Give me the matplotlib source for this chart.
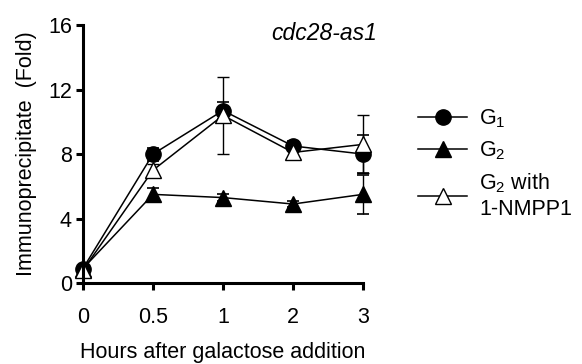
import matplotlib
matplotlib.use("Agg")
import matplotlib.pyplot as plt
from matplotlib.lines import Line2D
import numpy as np

plt.rcParams['font.family'] = ['Liberation Sans', 'DejaVu Sans']
plt.rcParams['mathtext.fontset'] = 'custom'
plt.rcParams['mathtext.rm'] = 'Liberation Sans'
plt.rcParams['mathtext.it'] = 'Liberation Sans:italic'
plt.rcParams['mathtext.default'] = 'regular'

time_labels = ["0", "0.5", "1", "2", "3"]
g1 = [0.9, 8.0, 10.7, 8.5, 8.0]
g1_err = [0.1, 0.4, 0.5, 0.3, 1.2]
g2 = [0.9, 5.5, 5.3, 4.9, 5.5]
g2_err = [0.1, 0.4, 0.2, 0.2, 1.2]
g2n = [0.8, 7.0, 10.4, 8.1, 8.6]
g2n_err = [0.1, 0.4, 2.4, 0.3, 1.8]
series_labels = ["G$_1$", "G$_2$", "G$_2$ with\n1-NMPP1"]

FS = 15.5
fig = plt.figure(figsize=(5.82, 3.64), dpi=100)
ax = fig.add_axes([0.1426, 0.2225, 0.6237 - 0.1426, 0.931 - 0.2225])
x = np.arange(len(time_labels))

common = dict(color='black', lw=1.1, ms=11, capsize=4, elinewidth=1.0,
              capthick=1.2, ecolor='black', clip_on=False)
ax.errorbar(x, g1, yerr=g1_err, fmt='-o', mfc='black', mec='black', **common)
ax.errorbar(x, g2, yerr=g2_err, fmt='-^', mfc='black', mec='black', **common)
ax.errorbar(x, g2n, yerr=g2n_err, fmt='-^', mfc='white', mec='black', mew=1.0, **common)

ax.set_xlim(0, 4)
ax.set_ylim(0, 16)
ax.set_xticks(x)
ax.set_xticklabels(time_labels)
ax.set_yticks([0, 4, 8, 12, 16])
ax.tick_params(axis='both', labelsize=FS, width=2.2, length=5, direction='out', pad=3)
ax.tick_params(axis='x', pad=12)
for s in ['top', 'right']:
    ax.spines[s].set_visible(False)
for s in ['left', 'bottom']:
    ax.spines[s].set_linewidth(2.2)
ax.set_xlabel("Hours after galactose addition", fontsize=FS, labelpad=10)
ax.set_ylabel("Immunoprecipitate  (Fold)", fontsize=FS, labelpad=8)
ax.text(4.2, 15.5, "cdc28-as1", fontsize=16.5, style='italic', ha='right', va='center')

handles = [
    Line2D([], [], color='black', lw=1.1, marker='o', ms=11, mfc='black', mec='black'),
    Line2D([], [], color='black', lw=1.1, marker='^', ms=11, mfc='black', mec='black'),
    Line2D([], [], color='black', lw=1.1, marker='^', ms=11, mfc='white', mec='black'),
]
leg = ax.legend(handles=handles, labels=series_labels, loc='upper left',
                bbox_to_anchor=(1.165, 0.715), frameon=False, fontsize=FS,
                handlelength=2.3, labelspacing=0.45, handletextpad=0.55,
                borderaxespad=0)
fig.savefig("out.png", dpi=100)
